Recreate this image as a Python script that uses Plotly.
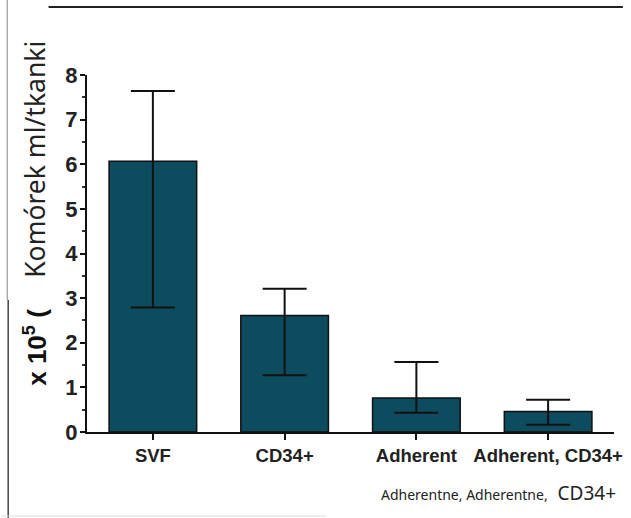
import plotly.graph_objects as go

categories = ["SVF", "CD34+", "Adherent", "Adherent, CD34+"]
means = [6.07, 2.61, 0.76, 0.46]
upper = [7.64, 3.21, 1.57, 0.72]
lower = [2.79, 1.27, 0.43, 0.16]
y_ticks = [0, 1, 2, 3, 4, 5, 6, 7, 8]

err_plus = [u - m for u, m in zip(upper, means)]
err_minus = [m - l for m, l in zip(means, lower)]

W, H = 631, 518
ML, MR, MT, MB = 87, 9, 75, 86
PW, PH = W - ML - MR, H - MT - MB


def px(x):
    return (x - ML) / PW


def py(y):
    return 1 - (y - MT) / PH


fig = go.Figure()
fig.add_trace(go.Bar(
    x=list(range(len(categories))), y=means, width=0.665,
    marker=dict(color="#0d4b5f", line=dict(color="#111", width=1.5)),
    error_y=dict(type="data", array=err_plus, arrayminus=err_minus,
                 color="#111", thickness=2, width=22, visible=True),
    showlegend=False,
))

fig.update_layout(
    width=W, height=H,
    margin=dict(l=ML, r=MR, t=MT, b=MB),
    paper_bgcolor="white", plot_bgcolor="white",
    font=dict(family="Liberation Sans, Arial", color="#111"),
)
fig.update_xaxes(
    range=[-0.5, 3.5], tickmode="array",
    tickvals=list(range(len(categories))), ticktext=categories,
    showline=True, linecolor="#111", linewidth=2,
    ticks="outside", ticklen=6, tickwidth=2, tickcolor="#111",
    tickfont=dict(size=18.5, family="Liberation Sans, Arial", weight="bold", color="#222"),
    ticklabeloverflow="allow",
    showgrid=False, zeroline=False, fixedrange=True,
)
fig.update_yaxes(
    range=[0, 8], tickmode="array", tickvals=y_ticks,
    showline=True, linecolor="#111", linewidth=2,
    ticks="outside", ticklen=5, tickwidth=2, tickcolor="#111",
    minor=dict(ticks="outside", ticklen=3, tickwidth=1.5, tickcolor="#333", dtick=0.5, showgrid=False),
    tickfont=dict(size=22, family="Liberation Sans, Arial", weight="bold", color="#222"),
    ticklabelstandoff=-2,
    showgrid=False, zeroline=False, fixedrange=True,
)

fig.add_annotation(
    x=px(34), y=py(347), xref="paper", yref="paper",
    xanchor="center", yanchor="middle",
    text="<b>x 10<sup>5</sup> (</b>", textangle=-90, showarrow=False,
    font=dict(size=26, family="Liberation Sans, Arial", color="#111"),
)
fig.add_annotation(
    x=px(34), y=py(159), xref="paper", yref="paper",
    xanchor="center", yanchor="middle",
    text="Komórek ml/tkanki", textangle=-90, showarrow=False,
    font=dict(size=26.5, family="Noto Sans", color="#222"),
)
fig.add_annotation(
    x=px(383), y=py(493), xref="paper", yref="paper",
    xanchor="left", yanchor="middle",
    text="<span style='font-size:14px'>Adherentne, Adherentne,</span>  CD34+",
    showarrow=False,
    font=dict(size=19, family="Noto Sans", color="#222"),
)

fig.add_shape(type="line", xref="paper", yref="paper",
              x0=px(48), x1=px(631), y0=py(7), y1=py(7),
              line=dict(color="#222", width=2))
fig.add_shape(type="line", xref="paper", yref="paper",
              x0=px(6), x1=px(6), y0=py(0), y1=py(300),
              line=dict(color="#888", width=1))
fig.add_shape(type="line", xref="paper", yref="paper",
              x0=px(7), x1=px(7), y0=py(300), y1=py(518),
              line=dict(color="#444", width=1.5))
fig.add_shape(type="line", xref="paper", yref="paper",
              x0=px(0), x1=px(330), y0=py(516), y1=py(516),
              line=dict(color="#ddd", width=1))

fig.write_html("out.html", config={"displayModeBar": False},
               post_script="document.body.style.margin='0';")
